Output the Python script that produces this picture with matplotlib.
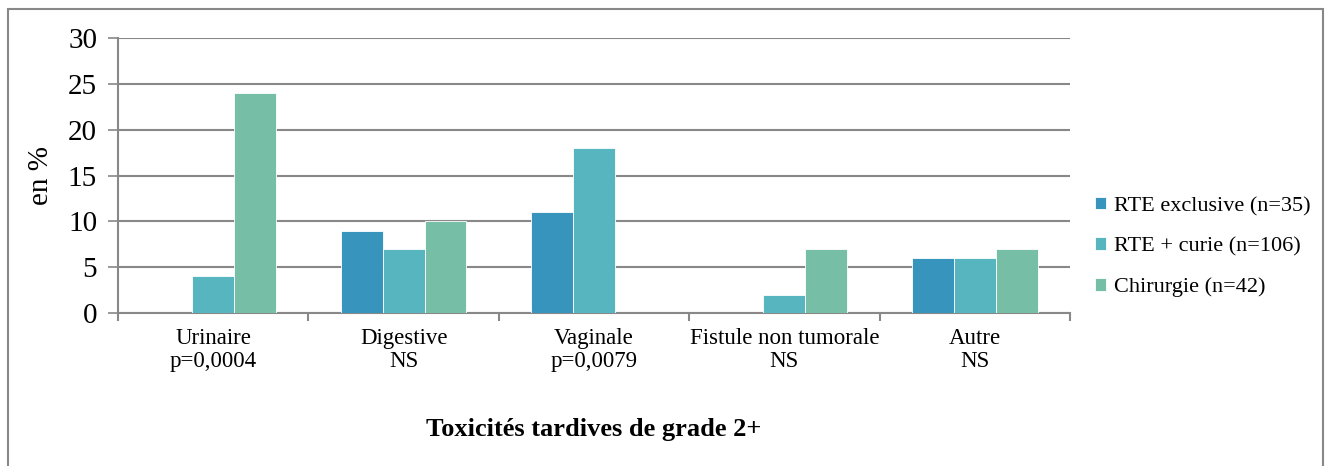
import matplotlib.pyplot as plt
import numpy as np
from matplotlib.patches import Rectangle

categories = ['Urinaire\np=0,0004', 'Digestive\nNS', 'Vaginale\np=0,0079',
              'Fistule non tumorale\nNS', 'Autre\nNS']
series = ['RTE exclusive (n=35)', 'RTE + curie (n=106)', 'Chirurgie (n=42)']
rte_excl = [0, 9, 11, 0, 6]
rte_curie = [4, 7, 18, 2, 6]
chirurgie = [24, 10, 0, 7, 7]
colors = ['#3794BC', '#57B5C0', '#76BEA6']

plt.rcParams['font.family'] = ['Liberation Serif', 'DejaVu Serif']

fig = plt.figure(figsize=(13.25, 4.66), dpi=100)
ax = fig.add_axes([118/1325, 1 - 313/466, (1070 - 118)/1325, (313 - 38)/466])

x = np.arange(len(categories))
w = 0.22
for i, (vals, lab, c) in enumerate(zip([rte_excl, rte_curie, chirurgie], series, colors)):
    ax.bar(x + (i - 1) * w, vals, w, color=c, label=lab, edgecolor='white',
           linewidth=0.6, zorder=3)

gray = '#888888'
ax.set_xlim(-0.5, len(categories) - 0.5)
ax.set_ylim(0, 30)
ax.set_yticks(range(0, 31, 5))
ax.tick_params(axis='y', labelsize=21, length=7, width=1.2, color=gray, pad=8)
ax.yaxis.grid(True, color=gray, linewidth=1.5, zorder=0)
ax.set_xticks(x)
ax.set_xticklabels(categories, fontsize=16.5, linespacing=1.1)
ax.tick_params(axis='x', length=0, pad=11)
ax.set_xticks(np.arange(-0.5, len(categories)), minor=True)
ax.tick_params(axis='x', which='minor', length=6, width=1.5, color=gray)
for s in ['top', 'right']:
    ax.spines[s].set_visible(False)
for s in ['left', 'bottom']:
    ax.spines[s].set_color(gray)
    ax.spines[s].set_linewidth(1.5)

ax.set_ylabel('en %', fontsize=21, labelpad=10)
ax.set_xlabel('Toxicités tardives de grade 2+', fontsize=19, fontweight='bold',
              labelpad=33)

ax.legend(loc='center left', bbox_to_anchor=(1.005, 0.24), frameon=False,
          fontsize=16, handlelength=0.5, handleheight=0.5, handletextpad=0.35,
          labelspacing=0.95)

fig.add_artist(Rectangle((8/1325, -0.05), (1323 - 8)/1325, 1.05 - 9/466,
                         transform=fig.transFigure, fill=False,
                         edgecolor=gray, linewidth=1.5))

plt.savefig('out.png', dpi=100)
